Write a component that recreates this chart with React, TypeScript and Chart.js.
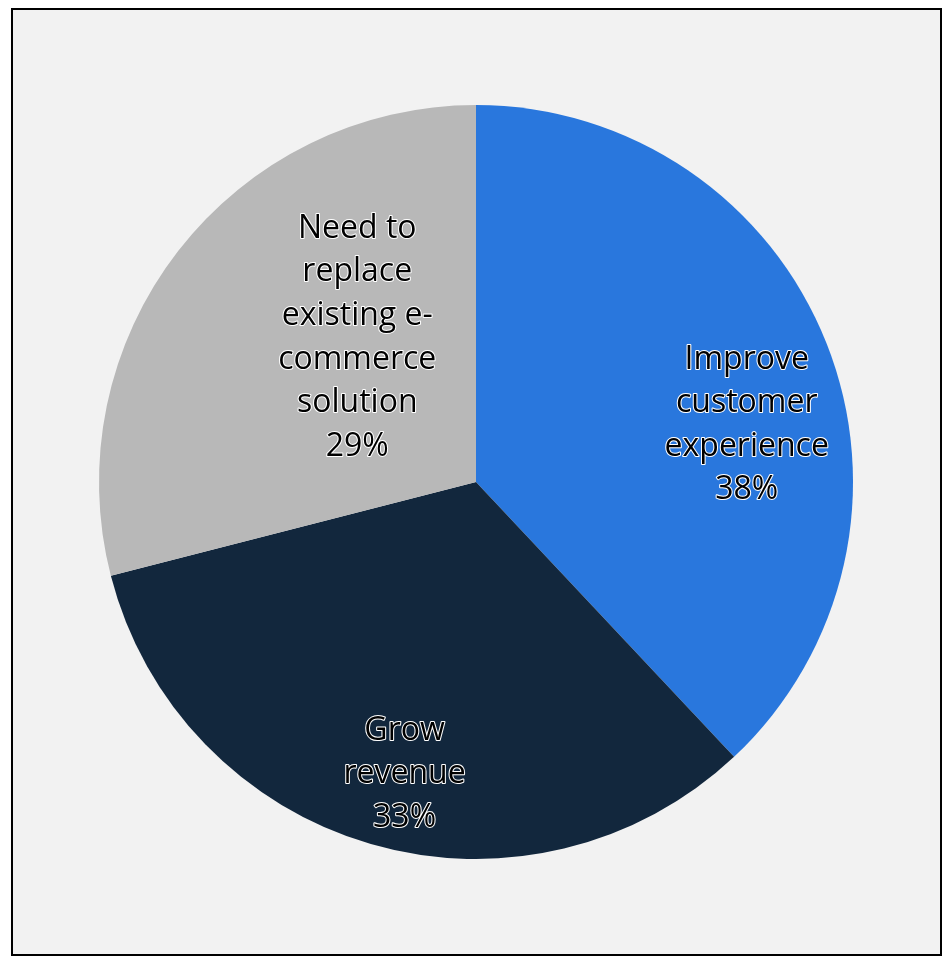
import React, { useEffect, useRef } from "react";
import { Chart, registerables } from "chart.js";

Chart.register(...registerables);

const categories: string[][] = [
  ["Improve", "customer", "experience"],
  ["Grow", "revenue"],
  ["Need to", "replace", "existing e-", "commerce", "solution"],
];
const values: number[] = [38, 33, 29];
const colors: string[] = ["#2977dd", "#12273d", "#b8b8b8"];

// label placement inside each slice: fraction along the slice's sweep, fraction of radius
const labelAngleFrac: number[] = [0.568, 0.48, 0.626];
const labelRadiusFrac: number[] = [0.735, 0.793, 0.5];

const labelPlugin = {
  id: "sliceLabels",
  afterDatasetsDraw(chart: any) {
    const ctx = chart.ctx;
    const meta = chart.getDatasetMeta(0);
    const total = values.reduce((a, b) => a + b, 0);
    ctx.save();
    ctx.font = "32px 'Open Sans'";
    ctx.textAlign = "center";
    ctx.textBaseline = "middle";
    ctx.lineJoin = "round";
    const lh = 43.6;
    meta.data.forEach((arc: any, i: number) => {
      const { x, y, startAngle, endAngle, outerRadius } = arc.getProps(
        ["x", "y", "startAngle", "endAngle", "outerRadius"],
        true
      );
      const a = startAngle + (endAngle - startAngle) * labelAngleFrac[i];
      const r = outerRadius * labelRadiusFrac[i];
      const cx = x + Math.cos(a) * r;
      const cy = y + Math.sin(a) * r + 2;
      const pct = Math.round((values[i] / total) * 100) + "%";
      const lines = [...categories[i], pct];
      const y0 = cy - ((lines.length - 1) * lh) / 2;
      lines.forEach((t, j) => {
        const ly = y0 + j * lh;
        ctx.strokeStyle = "#ffffff";
        ctx.lineWidth = 2;
        ctx.strokeText(t, cx, ly);
        ctx.fillStyle = "#000000";
        ctx.fillText(t, cx, ly);
      });
    });
    ctx.restore();
  },
};

export default function App() {
  const ref = useRef<HTMLCanvasElement | null>(null);
  useEffect(() => {
    if (!ref.current) return;
    const chart = new Chart(ref.current, {
      type: "pie",
      data: {
        labels: categories.map((c) => c.join(" ")),
        datasets: [
          {
            data: values,
            backgroundColor: colors,
            borderWidth: 0,
          },
        ],
      },
      options: {
        animation: false,
        responsive: false,
        maintainAspectRatio: false,
        layout: { padding: { left: 99, right: 95, top: 105, bottom: 100 } },
        plugins: {
          legend: { display: false },
          tooltip: { enabled: false },
        },
      },
      plugins: [labelPlugin],
    });
    return () => chart.destroy();
  }, []);
  return (
    <div style={{ position: "absolute", left: 0, top: 0, width: 948, height: 959 }}>
      <div
        style={{
          position: "absolute",
          left: 11,
          top: 8,
          width: 931,
          height: 948,
          boxSizing: "border-box",
          border: "2px solid #000",
          background: "#f2f2f2",
        }}
      />
      <canvas
        ref={ref}
        width={948}
        height={959}
        style={{ position: "absolute", left: 0, top: 0, width: 948, height: 959 }}
      />
    </div>
  );
}
